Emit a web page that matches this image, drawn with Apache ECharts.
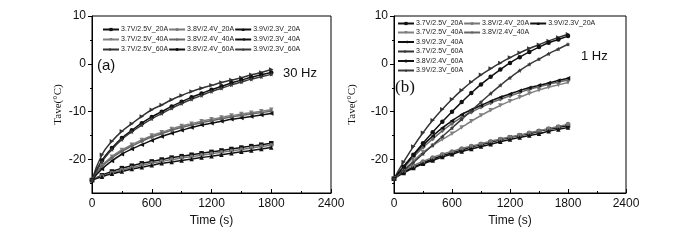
<!DOCTYPE html>
<html>
<head>
<meta charset="utf-8">
<script src="https://cdn.jsdelivr.net/npm/echarts@6/dist/echarts.min.js"></script>
<style>
  html, body { margin: 0; padding: 0; background: #fff; }
  #chart { width: 700px; height: 240px; }
</style>
</head>
<body>
<div id="chart"></div>
<script>
// time (s)
const times = [0, 100, 200, 300, 400, 500, 600, 700, 800, 900, 1000, 1100, 1200, 1300, 1400, 1500, 1600, 1700, 1800]

const seriesNames = [
  '3.7V/2.5V_20A', '3.8V/2.4V_20A', '3.9V/2.3V_20A',
  '3.7V/2.5V_40A', '3.8V/2.4V_40A', '3.9V/2.3V_40A',
  '3.7V/2.5V_60A', '3.8V/2.4V_60A', '3.9V/2.3V_60A',
]

// (a) 30 Hz
const hz30_37_20 = [-24.3, -23.3, -22.5, -21.8, -21.3, -20.8, -20.4, -20.0, -19.6, -19.3, -19.0, -18.7, -18.4, -18.1, -17.8, -17.5, -17.2, -16.9, -16.6]
const hz30_38_20 = [-24.3, -23.5, -22.8, -22.2, -21.7, -21.2, -20.8, -20.4, -20.0, -19.7, -19.4, -19.1, -18.8, -18.5, -18.2, -17.9, -17.6, -17.3, -17.0]
const hz30_39_20 = [-24.3, -23.6, -23.0, -22.5, -22.0, -21.6, -21.2, -20.8, -20.5, -20.2, -19.9, -19.6, -19.3, -19.0, -18.7, -18.4, -18.1, -17.8, -17.5]
const hz30_37_40 = [-24.3, -21.3, -19.4, -18.0, -16.9, -15.9, -15.0, -14.3, -13.6, -13.0, -12.5, -12.0, -11.6, -11.2, -10.8, -10.5, -10.2, -9.9, -9.6]
const hz30_38_40 = [-24.3, -21.5, -19.7, -18.3, -17.2, -16.2, -15.3, -14.6, -13.9, -13.3, -12.8, -12.3, -11.9, -11.5, -11.1, -10.8, -10.5, -10.2, -9.9]
const hz30_39_40 = [-24.3, -22.0, -20.3, -18.9, -17.8, -16.9, -16.0, -15.2, -14.5, -13.9, -13.3, -12.8, -12.4, -12.0, -11.6, -11.3, -11.0, -10.7, -10.4]
const hz30_37_60 = [-24.3, -19.0, -16.2, -14.1, -12.5, -11.0, -9.6, -8.6, -7.5, -6.6, -5.8, -5.1, -4.5, -3.9, -3.4, -2.9, -2.3, -1.8, -1.2]
const hz30_38_60 = [-24.3, -20.2, -17.6, -15.5, -13.9, -12.4, -11.1, -10.0, -8.9, -7.9, -7.0, -6.2, -5.4, -4.7, -4.0, -3.4, -2.8, -2.3, -1.8]
const hz30_39_60 = [-24.3, -20.5, -17.9, -15.8, -14.2, -12.8, -11.5, -10.4, -9.3, -8.3, -7.4, -6.6, -5.8, -5.1, -4.4, -3.8, -3.2, -2.7, -2.2]

// (b) 1 Hz
const hz1_37_20 = [-24.0, -22.6, -21.6, -20.7, -19.9, -19.2, -18.6, -18.0, -17.4, -16.9, -16.4, -15.9, -15.4, -15.0, -14.6, -14.1, -13.7, -13.3, -12.9]
const hz1_38_20 = [-24.0, -22.4, -21.3, -20.4, -19.6, -18.9, -18.3, -17.7, -17.2, -16.7, -16.2, -15.7, -15.3, -14.9, -14.4, -14.0, -13.5, -13.1, -12.6]
const hz1_39_20 = [-24.0, -22.8, -21.8, -20.9, -20.2, -19.5, -18.9, -18.3, -17.8, -17.3, -16.8, -16.3, -15.8, -15.4, -15.0, -14.6, -14.1, -13.7, -13.3]
const hz1_37_40 = [-24.0, -22.2, -20.3, -18.5, -17.1, -15.8, -14.6, -13.3, -12.0, -10.8, -9.7, -8.7, -7.8, -7.0, -6.2, -5.5, -4.9, -4.4, -3.9]
const hz1_38_40 = [-24.0, -21.8, -19.5, -17.5, -15.7, -14.0, -12.5, -11.2, -10.1, -9.1, -8.2, -7.4, -6.7, -6.0, -5.3, -4.8, -4.3, -3.8, -3.4]
const hz1_39_40 = [-24.0, -21.5, -19.1, -17.0, -15.1, -13.4, -11.9, -10.6, -9.6, -8.7, -7.8, -7.0, -6.3, -5.6, -5.0, -4.5, -4.0, -3.5, -3.0]
const hz1_37_60 = [-24.0, -20.5, -17.3, -14.4, -11.8, -9.5, -7.4, -5.5, -3.8, -2.3, -1.0, 0.2, 1.3, 2.3, 3.2, 4.0, 4.8, 5.5, 6.2]
const hz1_38_60 = [-24.0, -21.5, -19.0, -16.6, -14.3, -12.1, -10.0, -8.0, -6.1, -4.3, -2.7, -1.2, 0.2, 1.4, 2.5, 3.5, 4.4, 5.1, 5.8]
const hz1_39_60 = [-24.0, -22.3, -20.6, -18.8, -17.0, -15.2, -13.4, -11.6, -9.8, -8.0, -6.2, -4.5, -2.9, -1.4, -0.1, 1.0, 2.1, 3.1, 4.1]

const hz30Values = [hz30_37_20, hz30_38_20, hz30_39_20, hz30_37_40, hz30_38_40, hz30_39_40, hz30_37_60, hz30_38_60, hz30_39_60]
const hz1Values = [hz1_37_20, hz1_38_20, hz1_39_20, hz1_37_40, hz1_38_40, hz1_39_40, hz1_37_60, hz1_38_60, hz1_39_60]

const xTicks = [0, 600, 1200, 1800, 2400]
const yLabels = [-20, -10, 0, 10]
const yMinor = [-25, -15, -5, 5]

const STAR = 'path://M0,-10L2.9,-4L9.5,-3.1L4.7,1.5L5.9,8.1L0,5L-5.9,8.1L-4.7,1.5L-9.5,-3.1L-2.9,-4Z'
const styles = [
  { color: '#111', symbol: 'rect', rotate: 0 },
  { color: '#777', symbol: 'circle', rotate: 0 },
  { color: '#111', symbol: 'triangle', rotate: 0 },
  { color: '#808080', symbol: 'triangle', rotate: 180 },
  { color: '#666', symbol: 'diamond', rotate: 0 },
  { color: '#111', symbol: 'triangle', rotate: 90 },
  { color: '#333', symbol: 'triangle', rotate: -90 },
  { color: '#111', symbol: 'circle', rotate: 0 },
  { color: '#3a3a3a', symbol: STAR, rotate: 0 },
]

const FONT = '"Liberation Sans", Arial, sans-serif'
const SERIF = '"Liberation Serif", "Times New Roman", serif'

// plain numbers, no thousands separator
const plain = (v) => String(v)

const xAxisOf = (gridIndex) => ({
  gridIndex,
  type: 'value',
  min: 0,
  max: 2400,
  interval: 600,
  name: 'Time (s)',
  nameLocation: 'middle',
  nameGap: 19,
  nameTextStyle: { fontFamily: FONT, fontSize: 12, color: '#111' },
  axisLine: { onZero: false, lineStyle: { color: '#000', width: 1 } },
  axisTick: { inside: true, length: 4, lineStyle: { color: '#000' } },
  minorTick: { show: true, splitNumber: 2, length: 2, lineStyle: { color: '#000' } },
  axisLabel: { fontFamily: FONT, fontSize: 12, color: '#111', margin: 5, customValues: xTicks, formatter: plain },
  splitLine: { show: false },
})

const yAxisOf = (gridIndex, nameGap) => [
  {
    gridIndex,
    type: 'value',
    position: 'left',
    min: -27,
    max: 10,
    name: 'Tave(\u00b0C)',
    nameLocation: 'middle',
    nameGap,
    nameRotate: 90,
    nameTextStyle: { fontFamily: SERIF, fontSize: 11, color: '#111' },
    axisLine: { onZero: false, lineStyle: { color: '#000', width: 1 } },
    axisTick: { inside: false, length: 4, customValues: yLabels, lineStyle: { color: '#000' } },
    axisLabel: { fontFamily: FONT, fontSize: 12, color: '#111', margin: 6, customValues: yLabels, formatter: plain },
    splitLine: { show: false },
  },
  {
    gridIndex,
    type: 'value',
    position: 'left',
    offset: 0,
    min: -27,
    max: 10,
    axisLine: { show: false },
    axisTick: { inside: false, length: 2, customValues: yMinor, lineStyle: { color: '#000' } },
    axisLabel: { show: false },
    splitLine: { show: false },
  },
]

const buildSeries = (values, xIdx, yIdx) =>
  values.map((vals, i) => ({
    name: seriesNames[i],
    type: 'line',
    xAxisIndex: xIdx,
    yAxisIndex: yIdx,
    smooth: true,
    symbol: styles[i].symbol,
    symbolRotate: styles[i].rotate,
    symbolSize: 4.5,
    showAllSymbol: true,
    lineStyle: { color: styles[i].color, width: 1.5 },
    itemStyle: { color: styles[i].color },
    data: times.map((t, k) => [t, vals[k]]),
    animation: false,
  }))

const legendRow = (names, left, top) => ({
  data: names,
  left,
  top,
  orient: 'horizontal',
  padding: 0,
  itemGap: 0,
  itemWidth: 16,
  itemHeight: 4,
  selectedMode: false,
  textStyle: { fontFamily: FONT, fontSize: 7, color: '#222', padding: [0, 0, 0, -3] },
})

const option = {
  backgroundColor: '#fff',
  animation: false,
  grid: [
    { left: 92, top: 16, width: 239, height: 177, show: true, borderColor: '#000', borderWidth: 1 },
    { left: 394, top: 16, width: 232, height: 177, show: true, borderColor: '#000', borderWidth: 1 },
  ],
  xAxis: [xAxisOf(0), xAxisOf(1)],
  yAxis: [...yAxisOf(0, 28), ...yAxisOf(1, 36)],
  legend: [
    legendRow(seriesNames.slice(0, 3), 102, 26),
    legendRow(seriesNames.slice(3, 6), 102, 36),
    legendRow(seriesNames.slice(6, 9), 102, 46),
    legendRow(seriesNames.slice(0, 3), 397, 20),
    legendRow(seriesNames.slice(3, 5), 397, 29),
    legendRow(seriesNames.slice(5, 6), 397, 38.5),
    legendRow(seriesNames.slice(6, 7), 397, 48),
    legendRow(seriesNames.slice(7, 8), 397, 57.5),
    legendRow(seriesNames.slice(8, 9), 397, 67),
  ],
  graphic: [
    { type: 'text', left: 97, top: 58, style: { text: '(a)', font: '15px ' + FONT, fill: '#111' } },
    { type: 'text', left: 283, top: 67, style: { text: '30 Hz', font: '13px ' + FONT, fill: '#111' } },
    { type: 'text', left: 395, top: 79, style: { text: '(b)', font: '17px ' + SERIF, fill: '#111' } },
    { type: 'text', left: 581, top: 50, style: { text: '1 Hz', font: '13px ' + FONT, fill: '#111' } },
  ],
  series: [...buildSeries(hz30Values, 0, 0), ...buildSeries(hz1Values, 1, 2)],
}

const chart = echarts.init(document.getElementById('chart'), null, { renderer: 'canvas' })
chart.setOption(option)
</script>
</body>
</html>
